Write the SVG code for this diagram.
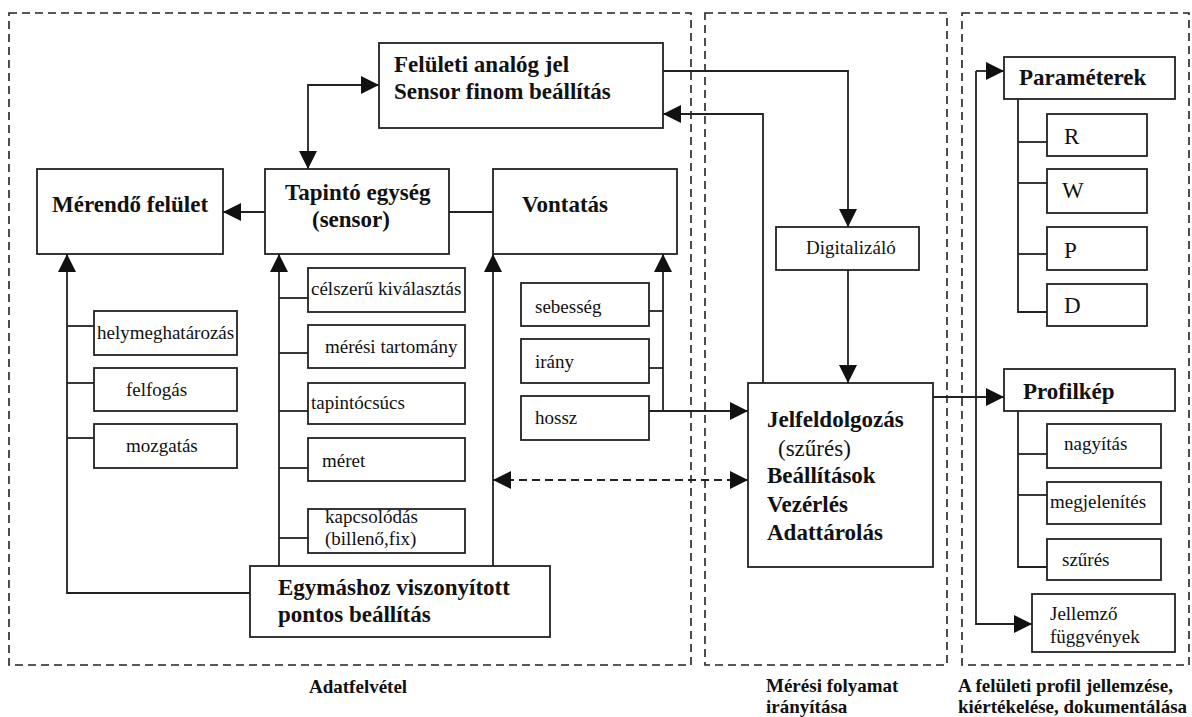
<svg xmlns="http://www.w3.org/2000/svg" width="1192" height="717" viewBox="0 0 1192 717">
<style>
  .bg{fill:#fff}
  .box{fill:#fff;stroke:#222;stroke-width:1.8}
  .reg{fill:none;stroke:#222;stroke-width:1.6;stroke-dasharray:8 5}
  .ln{fill:none;stroke:#222;stroke-width:1.8}
  .dl{fill:none;stroke:#222;stroke-width:1.8;stroke-dasharray:8 5}
  .tb{font-family:"Liberation Serif","Times New Roman",serif;font-weight:bold;font-size:23px;fill:#111}
  .tr{font-family:"Liberation Serif","Times New Roman",serif;font-size:19px;fill:#111}
  .tl{font-family:"Liberation Serif","Times New Roman",serif;font-size:23px;fill:#111}
  .tc{font-family:"Liberation Serif","Times New Roman",serif;font-weight:bold;font-size:19px;fill:#111}
</style>
<defs>
  <marker id="ah" markerUnits="userSpaceOnUse" markerWidth="18" markerHeight="18" viewBox="0 0 18 18" refX="18" refY="9" orient="auto-start-reverse">
    <path d="M0,0 L18,9 L0,18 z" fill="#111"/>
  </marker>
</defs>
<rect class="bg" x="0" y="0" width="1192" height="717"/>

<g id="regions">
  <rect class="reg" x="9" y="13" width="682" height="652"/>
  <rect class="reg" x="705" y="13" width="242" height="652"/>
  <rect class="reg" x="962" y="13" width="227" height="652"/>
  <text class="tc" x="309" y="693">Adatfelvétel</text>
  <text class="tc" x="766" y="692">Mérési folyamat</text>
  <text class="tc" x="766" y="713">irányítása</text>
  <text class="tc" x="958" y="692">A felületi profil jellemzése,</text>
  <text class="tc" x="958" y="713">kiértékelése, dokumentálása</text>
</g>

<g id="connectors">
  <!-- Tapinto <-> Feluleti -->
  <polyline class="ln" points="308,169 308,85 379,85" marker-start="url(#ah)" marker-end="url(#ah)"/>
  <!-- Tapinto -> Merendo -->
  <line class="ln" x1="265" y1="212" x2="223" y2="212" marker-end="url(#ah)"/>
  <!-- Tapinto - Vontatas -->
  <line class="ln" x1="449" y1="212" x2="493" y2="212"/>
  <!-- Feluleti -> Digitalizalo -->
  <polyline class="ln" points="663,71 848,71 848,227" marker-end="url(#ah)"/>
  <!-- Jelfeld -> Feluleti -->
  <polyline class="ln" points="763,383 763,114 663,114" marker-end="url(#ah)"/>
  <!-- Digitalizalo -> Jelfeld -->
  <line class="ln" x1="848" y1="270" x2="848" y2="383" marker-end="url(#ah)"/>
  <!-- Egymashoz -> Merendo -->
  <polyline class="ln" points="250,593 67,593 67,254" marker-end="url(#ah)"/>
  <line class="ln" x1="67" y1="326" x2="94" y2="326"/>
  <line class="ln" x1="67" y1="383" x2="94" y2="383"/>
  <line class="ln" x1="67" y1="438" x2="94" y2="438"/>
  <!-- Egymashoz -> Tapinto -->
  <line class="ln" x1="279" y1="566" x2="279" y2="254" marker-end="url(#ah)"/>
  <line class="ln" x1="279" y1="298" x2="308" y2="298"/>
  <line class="ln" x1="279" y1="353" x2="308" y2="353"/>
  <line class="ln" x1="279" y1="411" x2="308" y2="411"/>
  <line class="ln" x1="279" y1="468" x2="308" y2="468"/>
  <line class="ln" x1="279" y1="538" x2="308" y2="538"/>
  <!-- Egymashoz -> Vontatas -->
  <line class="ln" x1="493" y1="566" x2="493" y2="254" marker-end="url(#ah)"/>
  <!-- sebesseg/irany/hossz -> Vontatas -->
  <line class="ln" x1="663" y1="411" x2="663" y2="254" marker-end="url(#ah)"/>
  <line class="ln" x1="649" y1="311" x2="663" y2="311"/>
  <line class="ln" x1="649" y1="368" x2="663" y2="368"/>
  <line class="ln" x1="649" y1="411" x2="748" y2="411" marker-end="url(#ah)"/>
  <!-- dashed double arrow -->
  <line class="dl" x1="493" y1="480" x2="748" y2="480" marker-start="url(#ah)" marker-end="url(#ah)"/>
  <!-- Jelfeld -> outputs -->
  <line class="ln" x1="933" y1="397" x2="1004" y2="397" marker-end="url(#ah)"/>
  <polyline class="ln" points="976,71 976,624 1032,624" marker-end="url(#ah)"/>
  <line class="ln" x1="976" y1="71" x2="1004" y2="71" marker-end="url(#ah)"/>
  <!-- Parameterek tree -->
  <polyline class="ln" points="1018,99 1018,312 1047,312"/>
  <line class="ln" x1="1018" y1="142" x2="1047" y2="142"/>
  <line class="ln" x1="1018" y1="183" x2="1047" y2="183"/>
  <line class="ln" x1="1018" y1="254" x2="1047" y2="254"/>
  <!-- Profilkep tree -->
  <polyline class="ln" points="1018,411 1018,567 1047,567"/>
  <line class="ln" x1="1018" y1="454" x2="1047" y2="454"/>
  <line class="ln" x1="1018" y1="495" x2="1047" y2="495"/>
</g>

<g id="feluleti">
  <rect class="box" x="379" y="43" width="284" height="85"/>
  <text class="tb" x="394" y="72">Felületi analóg jel</text>
  <text class="tb" x="394" y="99">Sensor finom beállítás</text>
</g>
<g id="merendo">
  <rect class="box" x="37" y="169" width="186" height="85"/>
  <text class="tb" x="52" y="212">Mérendő felület</text>
</g>
<g id="tapinto">
  <rect class="box" x="265" y="169" width="184" height="85"/>
  <text class="tb" x="285" y="200">Tapintó egység</text>
  <text class="tb" x="312" y="227">(sensor)</text>
</g>
<g id="vontatas">
  <rect class="box" x="493" y="169" width="184" height="85"/>
  <text class="tb" x="522" y="212">Vontatás</text>
</g>
<g id="helymeghatarozas">
  <rect class="box" x="94" y="311" width="143" height="44"/>
  <text class="tr" x="97" y="339">helymeghatározás</text>
</g>
<g id="felfogas">
  <rect class="box" x="94" y="368" width="143" height="43"/>
  <text class="tr" x="126" y="396">felfogás</text>
</g>
<g id="mozgatas">
  <rect class="box" x="94" y="424" width="143" height="44"/>
  <text class="tr" x="126" y="452">mozgatás</text>
</g>
<g id="celszeru">
  <rect class="box" x="308" y="268" width="157" height="44"/>
  <text class="tr" x="311" y="295">célszerű kiválasztás</text>
</g>
<g id="meresi-tartomany">
  <rect class="box" x="308" y="325" width="157" height="43"/>
  <text class="tr" x="325" y="353">mérési tartomány</text>
</g>
<g id="tapintocsucs">
  <rect class="box" x="308" y="383" width="157" height="41"/>
  <text class="tr" x="311" y="409">tapintócsúcs</text>
</g>
<g id="meret">
  <rect class="box" x="308" y="438" width="157" height="43"/>
  <text class="tr" x="322" y="467">méret</text>
</g>
<g id="kapcsolodas">
  <rect class="box" x="308" y="509" width="157" height="44"/>
  <text class="tr" x="325" y="523">kapcsolódás</text>
  <text class="tr" x="325" y="545">(billenő,fix)</text>
</g>
<g id="sebesseg">
  <rect class="box" x="521" y="283" width="128" height="43"/>
  <text class="tr" x="535" y="313">sebesség</text>
</g>
<g id="irany">
  <rect class="box" x="521" y="339" width="128" height="44"/>
  <text class="tr" x="535" y="368">irány</text>
</g>
<g id="hossz">
  <rect class="box" x="521" y="396" width="128" height="44"/>
  <text class="tr" x="535" y="424">hossz</text>
</g>
<g id="egymashoz">
  <rect class="box" x="250" y="566" width="300" height="71"/>
  <text class="tb" x="278" y="595">Egymáshoz viszonyított</text>
  <text class="tb" x="278" y="622">pontos beállítás</text>
</g>
<g id="digitalizalo">
  <rect class="box" x="776" y="227" width="143" height="43"/>
  <text class="tr" x="806" y="254">Digitalizáló</text>
</g>
<g id="jelfeldolgozas">
  <rect class="box" x="748" y="383" width="185" height="184"/>
  <text class="tb" x="767" y="427">Jelfeldolgozás</text>
  <text class="tl" x="778" y="456">(szűrés)</text>
  <text class="tb" x="767" y="483">Beállítások</text>
  <text class="tb" x="767" y="512">Vezérlés</text>
  <text class="tb" x="767" y="540">Adattárolás</text>
</g>
<g id="parameterek">
  <rect class="box" x="1004" y="57" width="171" height="42"/>
  <text class="tb" x="1019" y="85">Paraméterek</text>
</g>
<g id="r">
  <rect class="box" x="1047" y="114" width="100" height="42"/>
  <text class="tl" x="1064" y="144">R</text>
</g>
<g id="w">
  <rect class="box" x="1047" y="169" width="100" height="44"/>
  <text class="tl" x="1062" y="198">W</text>
</g>
<g id="p">
  <rect class="box" x="1047" y="227" width="100" height="43"/>
  <text class="tl" x="1064" y="258">P</text>
</g>
<g id="d">
  <rect class="box" x="1047" y="284" width="100" height="42"/>
  <text class="tl" x="1064" y="313">D</text>
</g>
<g id="profilkep">
  <rect class="box" x="1004" y="369" width="171" height="42"/>
  <text class="tb" x="1023" y="399">Profilkép</text>
</g>
<g id="nagyitas">
  <rect class="box" x="1047" y="424" width="114" height="44"/>
  <text class="tr" x="1064" y="450">nagyítás</text>
</g>
<g id="megjelenites">
  <rect class="box" x="1047" y="482" width="114" height="42"/>
  <text class="tr" x="1050" y="508">megjelenítés</text>
</g>
<g id="szures">
  <rect class="box" x="1047" y="539" width="114" height="41"/>
  <text class="tr" x="1062" y="566">szűrés</text>
</g>
<g id="jellemzo">
  <rect class="box" x="1032" y="594" width="143" height="58"/>
  <text class="tr" x="1050" y="620">Jellemző</text>
  <text class="tr" x="1050" y="643">függvények</text>
</g>
</svg>
